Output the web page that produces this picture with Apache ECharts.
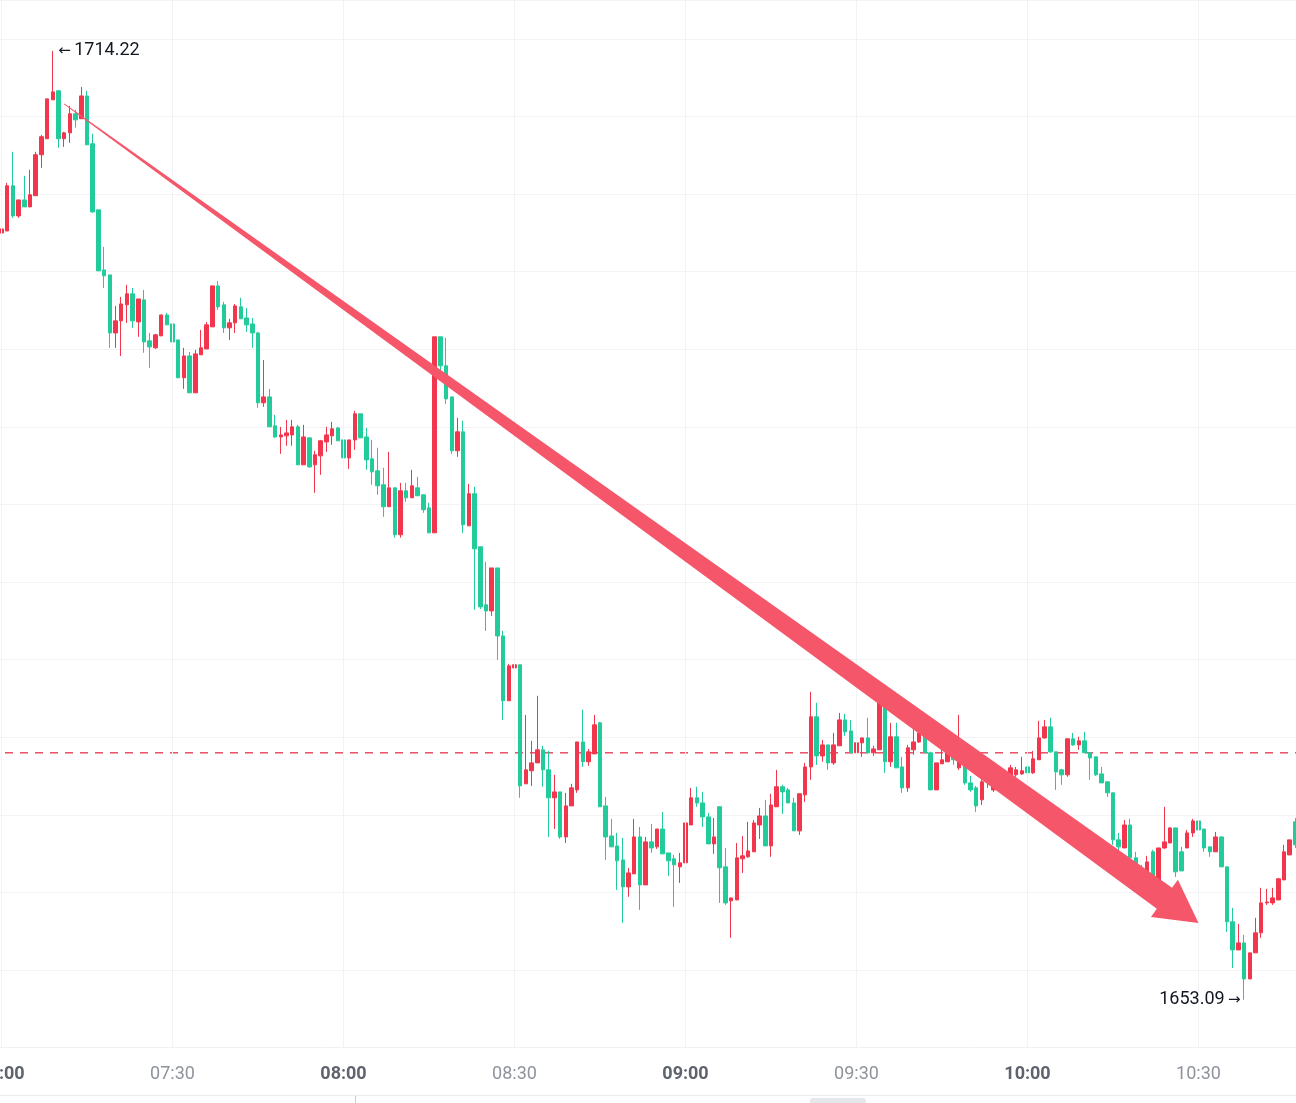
<!doctype html>
<html>

<head>
  <meta charset="utf-8">
  <title>index</title>
  <script src="https://cdn.jsdelivr.net/npm/echarts@6/dist/echarts.min.js"></script>
  <style>
    html, body { margin: 0; padding: 0; background: #fff; }
    #main { width: 1296px; height: 1103px; }
  </style>
</head>

<body>
  <div id="main"></div>
  <script>
    // 1-minute candles, 07:00 .. 10:47
    var startHour = 7;
    var candleCount = 228;
    var times = [];
    for (var i = 0; i < candleCount; i++) {
      var mm = startHour * 60 + i;
      times.push(pad(Math.floor(mm / 60)) + ':' + pad(mm % 60));
    }
    function pad(n) { return n < 10 ? '0' + n : '' + n; }

    var tickLabels = ['07:00', '07:30', '08:00', '08:30', '09:00', '09:30', '10:00', '10:30'];

    // [open, close, low, high]
    var ohlc = [
      [1702.49, 1702.75, 1701.40, 1703.01], [1702.62, 1705.53, 1702.62, 1705.72], [1705.53, 1703.59, 1703.46, 1707.72],
      [1703.59, 1704.62, 1703.46, 1704.62], [1704.62, 1704.17, 1704.17, 1706.17], [1704.17, 1704.95, 1704.17, 1706.56],
      [1704.89, 1707.53, 1704.89, 1707.72], [1707.53, 1708.69, 1706.69, 1708.81], [1708.56, 1711.13, 1708.56, 1711.13],
      [1711.07, 1711.58, 1711.07, 1714.22], [1711.65, 1708.56, 1707.98, 1711.71], [1708.56, 1708.94, 1708.04, 1709.01],
      [1708.94, 1710.17, 1708.30, 1710.68], [1710.17, 1709.78, 1709.27, 1710.43], [1709.85, 1711.32, 1709.85, 1711.90],
      [1711.32, 1708.17, 1708.17, 1711.65], [1708.24, 1703.85, 1703.78, 1708.88], [1703.98, 1700.05, 1700.05, 1703.98],
      [1700.11, 1699.73, 1698.95, 1701.59], [1699.79, 1696.05, 1695.09, 1699.79], [1696.05, 1696.83, 1695.09, 1697.79],
      [1696.83, 1697.92, 1694.57, 1698.37], [1697.86, 1698.57, 1696.70, 1699.15], [1698.57, 1696.83, 1696.38, 1698.95],
      [1696.76, 1698.24, 1695.80, 1698.24], [1698.18, 1695.47, 1694.77, 1698.82], [1695.54, 1695.15, 1693.80, 1696.05],
      [1695.09, 1695.93, 1695.02, 1695.99], [1695.86, 1697.21, 1695.86, 1697.21], [1697.21, 1696.57, 1696.57, 1697.34],
      [1696.63, 1695.47, 1695.47, 1697.28], [1695.60, 1693.16, 1693.16, 1695.60], [1693.16, 1694.57, 1692.45, 1695.09],
      [1694.57, 1692.19, 1692.19, 1694.83], [1692.19, 1694.70, 1692.19, 1694.96], [1694.64, 1695.09, 1694.64, 1696.25],
      [1695.02, 1696.57, 1695.02, 1696.76], [1696.44, 1699.08, 1696.44, 1699.08], [1699.08, 1697.73, 1697.54, 1699.40],
      [1697.86, 1696.38, 1696.05, 1698.05], [1696.38, 1696.70, 1695.60, 1696.96], [1696.70, 1697.79, 1696.05, 1697.92],
      [1697.73, 1696.96, 1696.96, 1698.31], [1697.02, 1696.57, 1696.12, 1697.66], [1696.63, 1696.05, 1695.09, 1697.02],
      [1696.05, 1691.55, 1691.22, 1696.12], [1691.55, 1691.93, 1691.29, 1694.31], [1691.93, 1690.00, 1690.00, 1692.45],
      [1690.07, 1689.35, 1689.29, 1690.77], [1689.35, 1689.48, 1688.26, 1690.00], [1689.42, 1689.61, 1688.78, 1690.45],
      [1689.48, 1690.00, 1688.78, 1690.45], [1690.00, 1687.55, 1687.55, 1690.13], [1687.55, 1689.35, 1687.55, 1690.13],
      [1689.29, 1687.42, 1687.36, 1689.29], [1687.55, 1688.20, 1685.75, 1688.46], [1688.13, 1689.10, 1686.91, 1689.16],
      [1689.03, 1689.48, 1688.39, 1690.00], [1689.42, 1689.87, 1688.84, 1690.32], [1689.93, 1689.10, 1689.10, 1690.00],
      [1689.16, 1688.00, 1687.23, 1689.61], [1688.00, 1689.16, 1687.29, 1689.16], [1689.16, 1690.84, 1688.52, 1691.03],
      [1690.84, 1689.29, 1689.29, 1690.84], [1689.35, 1687.87, 1687.23, 1689.93], [1687.94, 1687.10, 1686.27, 1689.16],
      [1687.17, 1686.20, 1685.62, 1688.65], [1686.27, 1684.85, 1684.20, 1687.36], [1684.85, 1686.07, 1684.85, 1688.39],
      [1686.07, 1683.05, 1682.86, 1686.07], [1683.05, 1685.88, 1682.86, 1686.39], [1685.88, 1685.43, 1685.17, 1686.39],
      [1685.43, 1686.20, 1685.43, 1687.23], [1686.07, 1685.56, 1685.56, 1686.78], [1685.62, 1684.66, 1684.46, 1685.62],
      [1684.78, 1683.17, 1683.17, 1685.11], [1683.17, 1695.80, 1683.17, 1695.80], [1695.80, 1693.93, 1693.35, 1695.80],
      [1693.93, 1691.80, 1691.48, 1695.73], [1691.93, 1688.46, 1688.26, 1691.93], [1688.46, 1689.68, 1688.07, 1690.58],
      [1689.68, 1683.69, 1683.17, 1690.39], [1683.62, 1685.69, 1683.62, 1686.33], [1685.69, 1682.14, 1678.21, 1686.14],
      [1682.27, 1678.40, 1678.27, 1682.27], [1678.53, 1678.14, 1676.85, 1681.30], [1678.14, 1680.91, 1677.82, 1680.91],
      [1680.91, 1676.53, 1674.99, 1680.91], [1676.53, 1672.35, 1671.12, 1676.85], [1672.35, 1674.60, 1672.35, 1674.73],
      [1674.47, 1674.67, 1673.44, 1675.89], [1674.67, 1666.87, 1666.10, 1674.67], [1667.00, 1667.90, 1667.00, 1671.44],
      [1667.84, 1668.35, 1666.87, 1669.77], [1668.35, 1669.19, 1668.35, 1672.67], [1669.19, 1667.90, 1666.81, 1669.45],
      [1667.90, 1666.10, 1663.58, 1669.12], [1666.10, 1666.48, 1664.09, 1667.58], [1666.48, 1663.58, 1663.45, 1666.48],
      [1663.58, 1665.58, 1663.19, 1666.42], [1665.58, 1666.74, 1665.58, 1667.00], [1666.61, 1669.70, 1666.42, 1669.70],
      [1669.70, 1668.42, 1668.09, 1671.77], [1668.42, 1669.06, 1668.16, 1669.25], [1668.93, 1670.80, 1668.93, 1671.44],
      [1670.93, 1665.52, 1665.52, 1670.99], [1665.58, 1663.58, 1662.10, 1666.16], [1663.64, 1662.94, 1662.94, 1664.74],
      [1663.00, 1662.04, 1660.17, 1663.84], [1662.10, 1660.36, 1658.04, 1663.52], [1660.36, 1661.26, 1659.72, 1661.59],
      [1661.20, 1663.58, 1661.20, 1664.74], [1663.58, 1660.49, 1658.88, 1664.22], [1660.49, 1663.26, 1660.49, 1663.58],
      [1663.26, 1662.87, 1662.55, 1664.42], [1662.94, 1664.09, 1662.81, 1664.09], [1664.09, 1662.49, 1662.49, 1665.19],
      [1662.55, 1662.04, 1661.07, 1662.55], [1662.17, 1661.78, 1659.07, 1662.42], [1661.65, 1661.91, 1660.62, 1662.55],
      [1661.91, 1664.48, 1661.07, 1664.87], [1664.35, 1666.10, 1664.35, 1666.74], [1666.10, 1665.77, 1665.52, 1666.81],
      [1665.77, 1664.87, 1664.22, 1666.48], [1664.87, 1663.13, 1663.13, 1665.13], [1663.13, 1663.58, 1662.49, 1664.80],
      [1665.52, 1661.59, 1659.33, 1665.52], [1661.65, 1659.33, 1659.20, 1662.87], [1659.46, 1659.65, 1657.08, 1659.65],
      [1659.52, 1662.23, 1659.52, 1663.19], [1662.17, 1662.36, 1661.26, 1663.64], [1662.30, 1662.68, 1662.23, 1664.55],
      [1662.62, 1664.48, 1662.62, 1664.67], [1664.35, 1664.93, 1663.45, 1665.45], [1664.93, 1663.00, 1663.00, 1665.97],
      [1663.00, 1665.64, 1662.30, 1666.36], [1665.52, 1666.81, 1665.52, 1667.90], [1666.81, 1666.48, 1665.06, 1666.94],
      [1666.61, 1665.77, 1665.77, 1666.74], [1665.77, 1663.97, 1663.97, 1666.10], [1663.97, 1666.36, 1663.71, 1666.36],
      [1666.29, 1668.09, 1665.84, 1668.35], [1668.09, 1671.32, 1667.26, 1672.93], [1671.32, 1668.80, 1668.22, 1672.22],
      [1668.80, 1669.51, 1668.42, 1669.83], [1669.51, 1668.35, 1667.90, 1669.51], [1668.35, 1669.51, 1668.22, 1670.28],
      [1669.45, 1671.12, 1669.45, 1671.57], [1671.12, 1670.35, 1670.09, 1671.51], [1670.41, 1669.00, 1669.00, 1671.12],
      [1669.00, 1669.64, 1668.22, 1670.28], [1669.64, 1669.96, 1668.74, 1669.96], [1669.96, 1669.00, 1669.00, 1671.25],
      [1669.00, 1669.25, 1668.80, 1669.45], [1669.19, 1672.22, 1669.19, 1672.41], [1672.22, 1668.42, 1667.71, 1672.22],
      [1668.42, 1670.03, 1668.09, 1670.93], [1670.03, 1668.03, 1668.03, 1670.93], [1668.09, 1666.74, 1666.42, 1668.74],
      [1666.74, 1669.32, 1666.48, 1669.51], [1669.19, 1669.70, 1668.87, 1670.67], [1669.70, 1670.28, 1669.64, 1670.48],
      [1670.16, 1669.00, 1669.00, 1670.35], [1669.00, 1666.61, 1666.61, 1669.06], [1666.61, 1668.35, 1666.61, 1668.35],
      [1668.29, 1668.55, 1668.29, 1669.32], [1668.42, 1669.25, 1668.42, 1669.25], [1669.06, 1668.55, 1668.22, 1669.32],
      [1668.03, 1669.06, 1667.90, 1671.44], [1668.67, 1667.06, 1666.94, 1668.87], [1667.06, 1666.61, 1666.48, 1667.51],
      [1666.74, 1665.58, 1665.19, 1666.87], [1665.97, 1667.13, 1665.64, 1667.39], [1667.13, 1667.51, 1666.74, 1667.77],
      [1666.61, 1667.13, 1666.48, 1667.58], [1667.32, 1667.00, 1666.74, 1667.77], [1667.39, 1667.71, 1667.13, 1667.90],
      [1667.45, 1668.03, 1667.32, 1668.22], [1667.58, 1667.90, 1667.45, 1668.09], [1667.64, 1667.84, 1667.58, 1668.74],
      [1668.09, 1667.71, 1667.71, 1668.61], [1667.71, 1668.61, 1667.64, 1669.12], [1668.55, 1669.96, 1668.55, 1671.06],
      [1669.96, 1670.67, 1669.90, 1671.12], [1670.67, 1669.06, 1669.00, 1671.25], [1669.06, 1667.77, 1666.61, 1669.06],
      [1667.90, 1667.58, 1666.94, 1667.97], [1667.58, 1669.90, 1667.45, 1669.90], [1669.90, 1669.51, 1669.45, 1670.28],
      [1669.51, 1669.77, 1669.19, 1670.03], [1669.77, 1669.00, 1669.00, 1670.35], [1669.00, 1668.67, 1667.26, 1669.06],
      [1668.74, 1667.58, 1667.51, 1668.74], [1667.64, 1667.06, 1667.06, 1668.09], [1667.13, 1666.42, 1666.16, 1667.13],
      [1666.42, 1663.39, 1663.07, 1666.42], [1663.39, 1662.94, 1660.81, 1663.84], [1662.87, 1664.35, 1662.87, 1664.67],
      [1664.35, 1662.23, 1661.97, 1664.74], [1662.23, 1661.46, 1660.94, 1662.62], [1661.46, 1660.81, 1660.43, 1661.78],
      [1661.07, 1661.97, 1660.81, 1662.36], [1662.62, 1661.00, 1660.81, 1662.74], [1660.81, 1662.87, 1660.62, 1662.87],
      [1662.87, 1663.26, 1662.81, 1665.52], [1663.19, 1664.16, 1663.19, 1664.22], [1664.16, 1661.33, 1661.00, 1664.16],
      [1662.62, 1661.39, 1661.39, 1662.94], [1662.87, 1663.84, 1662.87, 1664.03], [1663.84, 1664.61, 1663.58, 1664.74],
      [1664.61, 1664.03, 1664.03, 1666.16], [1664.09, 1662.87, 1662.62, 1664.09], [1662.94, 1662.62, 1662.30, 1662.94],
      [1662.62, 1663.58, 1662.62, 1663.90], [1663.58, 1661.65, 1661.65, 1663.58], [1661.65, 1658.11, 1657.46, 1661.65],
      [1658.11, 1656.30, 1655.14, 1659.01], [1656.30, 1656.75, 1656.30, 1657.98], [1656.75, 1654.43, 1653.09, 1657.27],
      [1654.43, 1656.11, 1654.43, 1656.11], [1656.11, 1657.40, 1656.11, 1658.37], [1657.40, 1659.33, 1657.08, 1660.30],
      [1659.33, 1659.39, 1659.20, 1660.23], [1659.33, 1659.65, 1659.20, 1660.30], [1659.52, 1660.88, 1659.52, 1660.94],
      [1660.81, 1662.62, 1660.81, 1663.07], [1662.42, 1663.39, 1662.42, 1663.39], [1664.55, 1663.07, 1662.87, 1664.80]
    ];

    var priceLine = 1669.0;              // dashed horizontal line
    var highMark = ['07:09', 1714.22];   // session high
    var lowMark = ['10:38', 1653.09];    // session low
    var arrowFrom = ['07:11', 1710.81];  // drawn trend arrow
    var arrowTo = ['10:30', 1658.04];

    var upColor = '#f2364d';
    var downColor = '#22cc9a';
    var font = 'Roboto, "Noto Sans", sans-serif';

    var chart = echarts.init(document.getElementById('main'));

    var option = {
      animation: false,
      backgroundColor: '#ffffff',
      grid: {
        left: -1.35, right: -2.25, top: 0, bottom: 55.3,
        containLabel: false,
        outerBoundsMode: 'none'
      },
      xAxis: {
        type: 'category',
        data: times,
        boundaryGap: true,
        axisLine: { show: true, lineStyle: { color: '#eef0f3' } },
        axisTick: { show: false },
        splitLine: { show: false },
        axisLabel: {
          interval: function (idx, v) { return tickLabels.indexOf(v) >= 0; },
          margin: 18,
          formatter: function (v) {
            return v.slice(3) === '00' ? '{h|' + v + '}' : '{m|' + v + '}';
          },
          rich: {
            h: { fontSize: 18, fontWeight: 'bold', color: '#5f636e', fontFamily: font },
            m: { fontSize: 18, color: '#8f939c', fontFamily: font }
          }
        }
      },
      yAxis: {
        type: 'value',
        min: 1650,
        max: 1717.5,
        interval: 5,
        axisLine: { show: false },
        axisTick: { show: false },
        axisLabel: { show: false },
        splitLine: { lineStyle: { color: '#f2f3f5' } }
      },
      series: [
        {
          // holder for the half-hour grid lines
          type: 'line',
          data: [],
          silent: true,
          z: 1,
          markLine: {
            silent: true,
            symbol: 'none',
            label: { show: false },
            lineStyle: { color: '#f2f3f5', type: 'solid', width: 1 },
            data: tickLabels.map(function (t) { return { xAxis: t }; })
          }
        },
        {
          type: 'candlestick',
          z: 2,
          data: ohlc,
          barWidth: 4,
          itemStyle: {
            color: upColor,
            color0: downColor,
            borderColor: upColor,
            borderColor0: downColor,
            borderWidth: 1
          },
          markPoint: {
            silent: true,
            symbol: 'circle',
            symbolSize: 1,
            itemStyle: { color: 'rgba(0,0,0,0)' },
            label: {
              show: true,
              rich: {
                a: { fontSize: 15, color: '#131722', fontFamily: 'DejaVu Sans' },
                v: { fontSize: 18, color: '#131722', fontFamily: font }
              }
            },
            data: [
              {
                coord: highMark,
                label: { position: 'right', distance: 5, formatter: '{a|←} {v|' + highMark[1].toFixed(2) + '}' }
              },
              {
                coord: lowMark,
                label: { position: 'left', distance: 3, formatter: '{v|' + lowMark[1].toFixed(2) + '} {a|→}' }
              }
            ]
          }
        }
      ]
    };
    chart.setOption(option);

    // tapered arrow drawn on top of the candles
    function arrowPoints() {
      var p0 = chart.convertToPixel({ gridIndex: 0 }, arrowFrom);
      var p1 = chart.convertToPixel({ gridIndex: 0 }, arrowTo);
      var dx = p1[0] - p0[0], dy = p1[1] - p0[1];
      var len = Math.sqrt(dx * dx + dy * dy);
      var ux = dx / len, uy = dy / len;
      var nx = -uy, ny = ux;
      var headLen = 42, headHalf = 23, w0 = 0.4, w1 = 13;
      var b = [p1[0] - ux * headLen, p1[1] - uy * headLen];
      return [
        [p0[0] + nx * w0, p0[1] + ny * w0],
        [b[0] + nx * w1, b[1] + ny * w1],
        [b[0] + nx * headHalf, b[1] + ny * headHalf],
        [p1[0], p1[1]],
        [b[0] - nx * headHalf, b[1] - ny * headHalf],
        [b[0] - nx * w1, b[1] - ny * w1],
        [p0[0] - nx * w0, p0[1] - ny * w0]
      ];
    }

    // dashed price line, built from short filled dashes
    var priceY = chart.convertToPixel({ yAxisIndex: 0 }, priceLine);
    var dashes = [];
    for (var x = 5; x < 1296; x += 15) {
      dashes.push({
        type: 'rect', silent: true,
        shape: { x: x, y: priceY - 0.75, width: 8, height: 1.5 },
        style: { fill: '#ea4d67' }
      });
    }

    chart.setOption({
      graphic: [
        { type: 'group', z: 50, silent: true, children: dashes },
        {
          type: 'polygon', z: 100, silent: true,
          shape: { points: arrowPoints() },
          style: { fill: '#f6566a' }
        },
        {
          type: 'line', z: 10, silent: true,
          shape: { x1: 0, y1: 1095.5, x2: 1296, y2: 1095.5 },
          style: { stroke: '#e9ebee', lineWidth: 1 }
        },
        {
          type: 'line', z: 10, silent: true,
          shape: { x1: 355.5, y1: 1096, x2: 355.5, y2: 1103 },
          style: { stroke: '#c9ccd2', lineWidth: 1 }
        },
        {
          type: 'rect', z: 10, silent: true,
          shape: { x: 810, y: 1098, width: 56, height: 10, r: 3 },
          style: { fill: '#e6e7ea' }
        }
      ]
    });
  </script>
</body>

</html>
